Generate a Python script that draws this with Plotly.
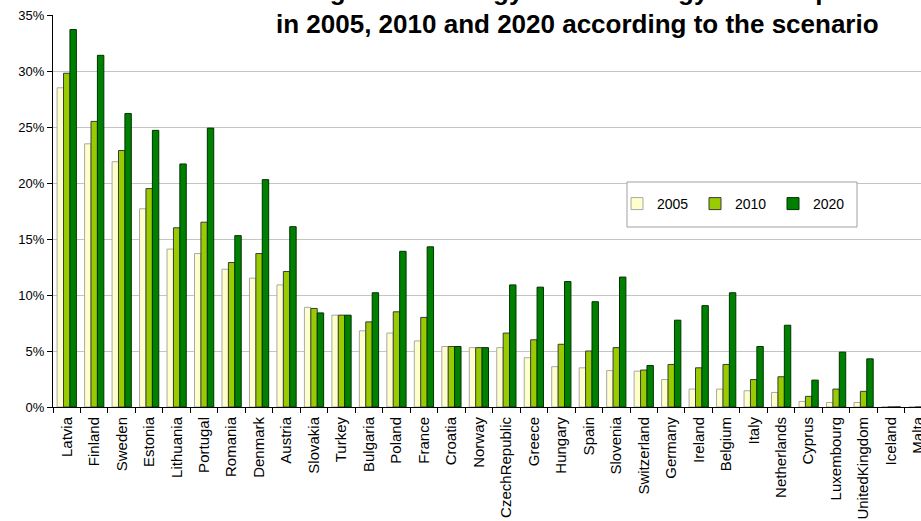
import plotly.graph_objects as go

countries = ["Latvia", "Finland", "Sweden", "Estonia", "Lithuania", "Portugal", "Romania",
             "Denmark", "Austria", "Slovakia", "Turkey", "Bulgaria", "Poland", "France",
             "Croatia", "Norway", "CzechRepublic", "Greece", "Hungary", "Spain", "Slovenia",
             "Switzerland", "Germany", "Ireland", "Belgium", "Italy", "Netherlands", "Cyprus",
             "Luxembourg", "UnitedKingdom", "Iceland", "Malta"]

v2005 = [28.5, 23.5, 21.9, 17.7, 14.1, 13.7, 12.3, 11.5, 10.9, 8.9, 8.2, 6.8, 6.6, 5.9,
         5.4, 5.3, 5.3, 4.4, 3.6, 3.5, 3.25, 3.2, 2.45, 1.6, 1.6, 1.45, 1.3, 0.5,
         0.4, 0.4, 0.0, 0.0]
v2010 = [29.8, 25.5, 22.9, 19.5, 16.0, 16.5, 12.9, 13.7, 12.1, 8.8, 8.2, 7.6, 8.5, 8.0,
         5.4, 5.3, 6.6, 6.0, 5.6, 5.0, 5.3, 3.3, 3.8, 3.5, 3.8, 2.45, 2.7, 0.95,
         1.6, 1.4, 0.0, 0.0]
v2020 = [33.7, 31.4, 26.2, 24.7, 21.7, 24.9, 15.3, 20.3, 16.1, 8.4, 8.2, 10.2, 13.9, 14.3,
         5.4, 5.3, 10.9, 10.7, 11.2, 9.4, 11.6, 3.7, 7.75, 9.05, 10.2, 5.4, 7.3, 2.4,
         4.9, 4.3, 0.0, 0.0]

series_names = ["2005", "2010", "2020"]
title_line1 = "Percentage of bioenergy in total energy consumption"
title_line2 = "in 2005, 2010 and 2020 according to the scenario"
y_ticks = [0, 5, 10, 15, 20, 25, 30, 35]

FONT = "Arial, Liberation Sans, sans-serif"
W, H = 921, 521
L, R, T, B = 53, 0, 15, 114
PW, PH = W - L - R, H - T - B


def px_x(p):
    return (p - L) / PW


def px_y(p):
    return 1 - (p - T) / PH


fig = go.Figure()
styles = [("#FFFFCC", "#a8a8a8"), ("#99CC00", "#3a3a3a"), ("#008000", "#003300")]
for name, vals, (fill, edge) in zip(series_names, [v2005, v2010, v2020], styles):
    fig.add_trace(go.Bar(x=countries, y=vals, name=name,
                         marker=dict(color=fill, line=dict(color=edge, width=1))))

fig.update_layout(
    width=W, height=H,
    margin=dict(l=L, r=R, t=T, b=B, autoexpand=False),
    paper_bgcolor="white", plot_bgcolor="white",
    barmode="group", bargap=0.3, bargroupgap=0,
    font=dict(family=FONT, color="black"),
    showlegend=True,
    legend=dict(orientation="h", x=px_x(617), y=px_y(204), xanchor="left", yanchor="middle",
                bgcolor="rgba(0,0,0,0)", borderwidth=0,
                font=dict(size=14, family=FONT, color="black"),
                entrywidth=33, entrywidthmode="pixels", traceorder="normal"),
    shapes=[dict(type="rect", xref="paper", yref="paper",
                 x0=px_x(627), x1=px_x(857), y0=px_y(227), y1=px_y(182),
                 line=dict(color="#a0a0a0", width=1), fillcolor="white", layer="above")],
    annotations=[
        dict(text="<b>%s</b>" % title_line1, xref="paper", yref="paper",
             x=px_x(881), y=px_y(-9), xanchor="right", yanchor="middle", showarrow=False,
             font=dict(size=26, family=FONT, color="black")),
        dict(text="<b>%s</b>" % title_line2, xref="paper", yref="paper",
             x=px_x(881), y=px_y(24), xanchor="right", yanchor="middle", showarrow=False,
             font=dict(size=26, family=FONT, color="black")),
    ],
)

fig.update_xaxes(
    type="category", range=[-0.5, 31.09], tickangle=-90,
    tickfont=dict(size=15, family=FONT, color="black"),
    showline=True, linecolor="black", linewidth=1,
    ticks="outside", ticklen=5, tickcolor="black", tickson="boundaries",
    ticklabelstandoff=3,
    showgrid=False, automargin=False,
)
fig.update_yaxes(
    range=[0, 35], tickvals=y_ticks, ticktext=["%d%%" % v for v in y_ticks],
    tickfont=dict(size=13, family=FONT, color="black"),
    showline=True, linecolor="black", linewidth=1,
    ticks="outside", ticklen=5, tickcolor="black",
    showgrid=True, gridcolor="#c4c4c4", gridwidth=1, zeroline=False, automargin=False,
)

fig.write_html("out.html")
